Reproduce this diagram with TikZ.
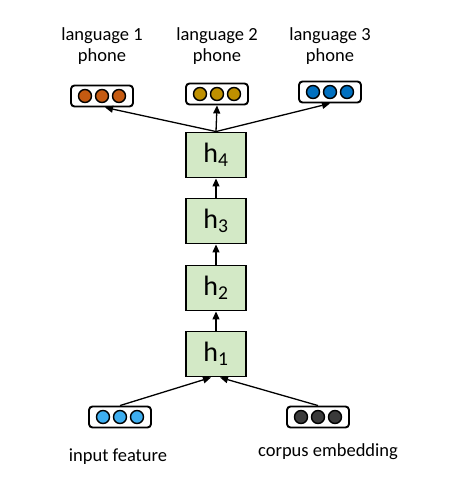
\documentclass[tikz,border=0pt]{standalone}
\usepackage{fontspec}
\setmainfont{Carlito}
\usetikzlibrary{arrows.meta,calc}
\definecolor{hgreen}{HTML}{D3E9C6}
\definecolor{corange}{HTML}{C55A11}
\definecolor{cgold}{HTML}{BF9000}
\definecolor{cblue}{HTML}{0070C0}
\definecolor{clight}{HTML}{3DAEF0}
\definecolor{cdark}{HTML}{3A3A3A}
\tikzset{
  hbox/.style={draw=black, fill=hgreen, line width=1.9pt, minimum width=60pt, minimum height=45pt, inner sep=0pt, font=\fontsize{28}{30}\selectfont},
  vecbox/.style={draw=black, line width=1.9pt, rounded corners=3.5pt, minimum width=62pt, minimum height=21pt, inner sep=0pt},
  dot/.style={circle, draw=black, line width=1.4pt, minimum size=13pt, inner sep=0pt},
  lbl/.style={font=\fontsize{18.5}{21.5}\selectfont, align=center, inner sep=0pt},
  arr/.style={-{Triangle[length=8pt,width=7pt]}, line width=1.3pt},
}
\newcommand{\threedots}[3]{%
  \node[dot, fill=#2] (#3a) at ($(#1)+(-17pt,0)$) {};
  \node[dot, fill=#2] (#3b) at (#1) {};
  \node[dot, fill=#2] (#3c) at ($(#1)+(17pt,0)$) {};}
\begin{document}
\begin{tikzpicture}[x=1pt,y=-1pt]
\useasboundingbox (0,0) rectangle (464,487);
% h boxes
\node[hbox] (h1) at (216,354) {h\textsubscript{1}};
\node[hbox] (h2) at (216,288) {h\textsubscript{2}};
\node[hbox] (h3) at (216,221) {h\textsubscript{3}};
\node[hbox] (h4) at (216,155) {h\textsubscript{4}};
% output vectors
\node[vecbox] (o1) at (102,96) {};
\node[vecbox] (o2) at (217,94) {};
\node[vecbox] (o3) at (330,92) {};
\threedots{o1}{corange}{p1}
\threedots{o2}{cgold}{p2}
\threedots{o3}{cblue}{p3}
% labels top
\node[lbl] (l1) at (102,46) {language 1\\phone};
\node[lbl] (l2) at (217,46) {language 2\\phone};
\node[lbl] (l3) at (330,46) {language 3\\phone};
% inputs
\node[vecbox] (in) at (120,417) {};
\node[vecbox] (ce) at (318,417) {};
\threedots{in}{clight}{q1}
\threedots{ce}{cdark}{q2}
\node[lbl, anchor=base] (inl) at (118,461) {input feature};
\node[lbl, anchor=base] (cel) at (328,456) {corpus embedding};
% arrows
\draw[arr] (h1.north) -- (h2.south);
\draw[arr] (h2.north) -- (h3.south);
\draw[arr] (h3.north) -- (h4.south);
\draw[arr] (h4.north) -- (o2.south);
\draw[arr] (h4.north) -- ($(o1.south)+(3,0)$);
\draw[arr] (h4.north) -- (o3.south);
\draw[arr] (in.north) -- ($(h1.south)+(-5,0)$);
\draw[arr] (ce.north) -- ($(h1.south)+(4,0)$);
\end{tikzpicture}
\end{document}
